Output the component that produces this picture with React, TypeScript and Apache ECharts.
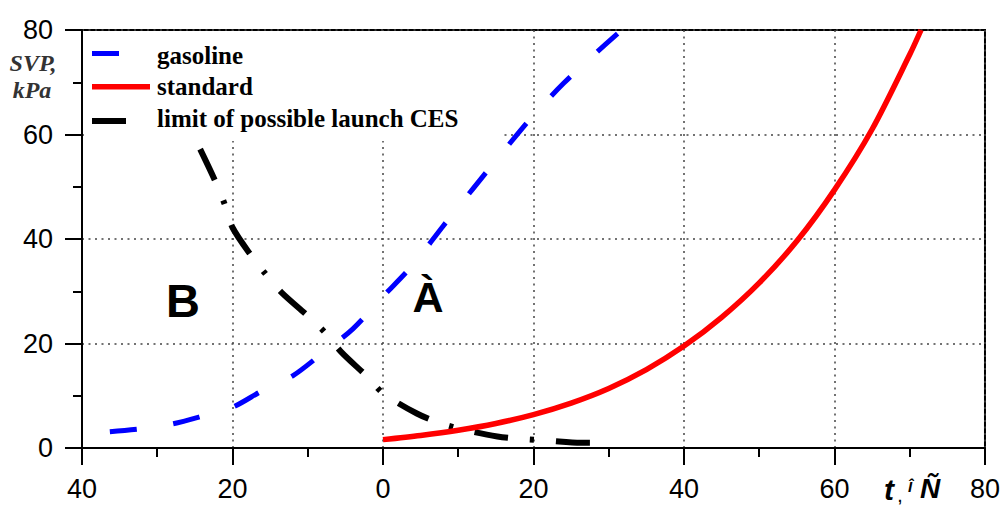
import React, { useEffect, useRef } from "react";
import * as echarts from "echarts";

// gasoline SVP (dashed blue)
const gasolineX = [-36.3, -32, -28, -24, -20, -16, -12, -8, -4, 0, 4, 8, 12, 16, 20, 24, 28, 31.7];
const gasolineY = [3.1, 3.7, 4.6, 6.1, 7.8, 11.0, 13.8, 18.2, 22.8, 29.0, 35.1, 42.5, 49.7, 56.8, 63.7, 69.8, 75.2, 80.0];

// standard (solid red)
const standardX = [0, 5, 10, 15, 20, 25, 30, 35, 40, 45, 50, 55, 60, 65, 70, 71.5];
const standardY = [1.6, 2.4, 3.4, 4.7, 6.4, 8.6, 11.4, 15.0, 19.5, 25.0, 31.6, 39.6, 49.4, 61.0, 75.3, 80.0];

// limit of possible launch CES (dash-dot black)
const limitX = [-24.3, -22.3, -21, -20, -17.5, -15.6, -13.5, -10, -7.7, -5.5, -2.2, 0, 4.5, 7.7, 11, 15.2, 18.6, 22, 26.3, 30.3];
const limitY = [57.2, 51.1, 46.5, 42.2, 36.8, 33.3, 29.8, 25.3, 22.1, 18.3, 13.8, 10.5, 6.6, 4.7, 3.4, 2.2, 1.7, 1.4, 1.0, 1.0];

const seriesNames = ["gasoline", "standard", "limit of possible launch CES"];
const xTicks = { min: -40, max: 80, interval: 20 };
const yTicks = { min: 0, max: 80, interval: 20 };

const pairs = (xs: number[], ys: number[]) => xs.map((x, i) => [x, ys[i]]);

export default function App() {
  const ref = useRef<HTMLDivElement>(null);
  useEffect(() => {
    if (!ref.current) return;
    const chart = echarts.init(ref.current, null, { renderer: "svg" });
    const legendFont = {
      fontFamily: "Liberation Serif",
      fontWeight: "bold" as const,
      fontSize: 25,
      fill: "#000",
    };
    const unitFont = {
      fontFamily: "Liberation Serif",
      fontStyle: "italic" as const,
      fontWeight: "bold" as const,
      fontSize: 24,
      fill: "#333",
      textAlign: "center" as const,
      textVerticalAlign: "middle" as const,
    };
    chart.setOption({
      animation: false,
      backgroundColor: "#fff",
      grid: {
        left: 82,
        right: 16,
        top: 30,
        bottom: 59,
        show: true,
        borderColor: "#000",
        borderWidth: 2,
      },
      xAxis: {
        type: "value",
        min: xTicks.min,
        max: xTicks.max,
        interval: xTicks.interval,
        axisLine: { show: true, onZero: false, lineStyle: { color: "#000", width: 2 } },
        axisTick: { show: true, length: 17, lineStyle: { color: "#000", width: 2 } },
        minorTick: { show: true, splitNumber: 2, length: 9, lineStyle: { color: "#000", width: 2 } },
        axisLabel: {
          margin: 27,
          fontFamily: "Liberation Sans",
          fontSize: 27,
          color: "#000",
          formatter: (v: number) => String(Math.abs(v)),
        },
        splitLine: { show: true, lineStyle: { color: "#444", width: 1.5, type: [2, 4.5] } },
      },
      yAxis: {
        type: "value",
        min: yTicks.min,
        max: yTicks.max,
        interval: yTicks.interval,
        axisLine: { show: true, onZero: false, lineStyle: { color: "#000", width: 2 } },
        axisTick: { show: true, length: 17, lineStyle: { color: "#000", width: 2 } },
        minorTick: { show: true, splitNumber: 2, length: 9, lineStyle: { color: "#000", width: 2 } },
        axisLabel: {
          margin: 29,
          fontFamily: "Liberation Sans",
          fontSize: 27,
          color: "#000",
        },
        splitLine: { show: true, lineStyle: { color: "#444", width: 1.5, type: [2, 4.5] } },
      },
      series: [
        {
          name: seriesNames[0],
          type: "line",
          data: pairs(gasolineX, gasolineY),
          smooth: 0.3,
          showSymbol: false,
          lineStyle: { color: "#0000ff", width: 5, type: [27, 37] },
          z: 3,
        },
        {
          name: seriesNames[1],
          type: "line",
          data: pairs(standardX, standardY),
          smooth: 0.3,
          showSymbol: false,
          lineStyle: { color: "#ff0000", width: 5.5, type: "solid" },
          z: 4,
        },
        {
          name: seriesNames[2],
          type: "line",
          data: pairs(limitX, limitY),
          smooth: 0.3,
          showSymbol: false,
          lineStyle: { color: "#000", width: 6, type: [34, 22, 4, 22] },
          z: 3,
        },
      ],
      graphic: [
        { type: "rect", shape: { x: 84, y: 31, width: 420, height: 110 }, style: { fill: "#fff" }, z: 50 },
        { type: "rect", shape: { x: 92, y: 51, width: 27, height: 5 }, style: { fill: "#0000ff" }, z: 51 },
        { type: "rect", shape: { x: 92, y: 84, width: 58, height: 5.5 }, style: { fill: "#ff0000" }, z: 51 },
        { type: "rect", shape: { x: 92, y: 118, width: 34, height: 6 }, style: { fill: "#000" }, z: 51 },
        { type: "text", x: 157, y: 55, style: { ...legendFont, text: seriesNames[0], textVerticalAlign: "middle" }, z: 51 },
        { type: "text", x: 157, y: 86, style: { ...legendFont, text: seriesNames[1], textVerticalAlign: "middle" }, z: 51 },
        { type: "text", x: 157, y: 118, style: { ...legendFont, text: seriesNames[2], textVerticalAlign: "middle" }, z: 51 },
        { type: "text", x: 33, y: 63, style: { ...unitFont, text: "SVP," }, z: 51 },
        { type: "text", x: 32, y: 90, style: { ...unitFont, text: "kPa" }, z: 51 },
        {
          type: "text", x: 183, y: 300,
          style: { text: "B", fontFamily: "Liberation Sans", fontWeight: "bold", fontSize: 47, fill: "#000", textAlign: "center", textVerticalAlign: "middle" },
          z: 51,
        },
        {
          type: "text", x: 428, y: 297,
          style: { text: "À", fontFamily: "Liberation Sans", fontWeight: "bold", fontSize: 43, fill: "#000", textAlign: "center", textVerticalAlign: "middle" },
          z: 51,
        },
        {
          type: "text", x: 889, y: 489,
          style: { text: "t", fontFamily: "Liberation Sans", fontStyle: "italic", fontWeight: "bold", fontSize: 30, fill: "#000", textAlign: "center", textVerticalAlign: "middle" },
          z: 51,
        },
        {
          type: "text", x: 900, y: 497,
          style: { text: ",", fontFamily: "Liberation Sans", fontWeight: "bold", fontSize: 14, fill: "#000", textAlign: "center", textVerticalAlign: "middle" },
          z: 51,
        },
        {
          type: "text", x: 910, y: 486,
          style: { text: "Î", fontFamily: "Liberation Sans", fontStyle: "italic", fontWeight: "bold", fontSize: 15, fill: "#000", textAlign: "center", textVerticalAlign: "middle" },
          z: 51,
        },
        {
          type: "text", x: 930, y: 488,
          style: { text: "Ñ", fontFamily: "Liberation Sans", fontStyle: "italic", fontWeight: "bold", fontSize: 28, fill: "#000", textAlign: "center", textVerticalAlign: "middle" },
          z: 51,
        },
      ],
    });
    return () => chart.dispose();
  }, []);
  return <div ref={ref} style={{ position: "fixed", left: 0, top: 0, width: 1003, height: 507 }} />;
}
